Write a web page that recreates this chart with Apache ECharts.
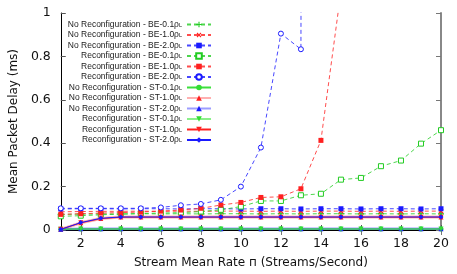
<!DOCTYPE html>
<html><head><meta charset="utf-8">
<script src="https://cdn.jsdelivr.net/npm/echarts@6/dist/echarts.min.js"></script>
<style>html,body{margin:0;padding:0;background:#fff}#c{width:457px;height:274px}</style>
</head><body><div id="c"></div>
<script>
const xs = [1,2,3,4,5,6,7,8,9,10,11,12,13,14,15,16,17,18,19,20];
const xTicks = [2,4,6,8,10,12,14,16,18,20];
const yTicks = [0,0.2,0.4,0.6,0.8,1];
const xTitle = 'Stream Mean Rate п (Streams/Second)';
const yTitle = 'Mean Packet Delay (ms)';
const names = [
 "No Reconfiguration - BE-0.1ρ","No Reconfiguration - BE-1.0ρ","No Reconfiguration - BE-2.0ρ",
 "Reconfiguration - BE-0.1ρ","Reconfiguration - BE-1.0ρ","Reconfiguration - BE-2.0ρ",
 "No Reconfiguration - ST-0.1ρ","No Reconfiguration - ST-1.0ρ","No Reconfiguration - ST-2.0ρ",
 "Reconfiguration - ST-0.1ρ","Reconfiguration - ST-1.0ρ","Reconfiguration - ST-2.0ρ"];
const nrBE01 = [0.072,0.073,0.074,0.074,0.075,0.074,0.075,0.074,0.075,0.075,0.074,0.075,0.074,0.075,0.075,0.074,0.075,0.074,0.075,0.074];
const nrBE10 = [0.084,0.085,0.086,0.086,0.087,0.086,0.087,0.086,0.087,0.087,0.086,0.087,0.086,0.087,0.087,0.086,0.087,0.086,0.087,0.087];
const nrBE20 = [0.097,0.098,0.098,0.097,0.098,0.098,0.097,0.098,0.098,0.097,0.098,0.098,0.097,0.098,0.098,0.097,0.098,0.098,0.097,0.098];
const rBE01 = [0.063,0.066,0.070,0.073,0.076,0.078,0.080,0.085,0.093,0.108,0.134,0.134,0.160,0.167,0.232,0.240,0.294,0.320,0.398,0.460];
const rBE10 = [0.072,0.075,0.078,0.080,0.083,0.087,0.092,0.100,0.115,0.127,0.150,0.153,0.190,0.413,1.10];
const rBE20 = [0.100,0.100,0.100,0.100,0.100,0.104,0.114,0.120,0.139,0.200,0.380,0.905,0.833,40.0];
const nrST01 = [0.004,0.005,0.005,0.005,0.005,0.005,0.005,0.005,0.005,0.005,0.005,0.005,0.005,0.005,0.005,0.005,0.005,0.005,0.005,0.005];
const nrST10 = [0.003,0.033,0.053,0.060,0.060,0.060,0.060,0.060,0.060,0.060,0.060,0.060,0.060,0.060,0.060,0.060,0.060,0.060,0.060,0.060];
const nrST20 = [0.004,0.006,0.006,0.006,0.006,0.006,0.006,0.006,0.006,0.006,0.006,0.006,0.006,0.006,0.006,0.006,0.006,0.006,0.006,0.006];
const rST01 = [0.004,0.005,0.005,0.005,0.005,0.005,0.005,0.005,0.005,0.005,0.005,0.005,0.005,0.005,0.005,0.005,0.005,0.005,0.005,0.005];
const rST10 = [0.003,0.033,0.052,0.059,0.059,0.059,0.059,0.059,0.059,0.059,0.059,0.059,0.059,0.059,0.059,0.059,0.059,0.059,0.059,0.059];
const rST20 = [0.003,0.034,0.054,0.060,0.060,0.060,0.060,0.060,0.060,0.060,0.060,0.060,0.060,0.060,0.060,0.060,0.060,0.060,0.060,0.060];
const dataSets = [nrBE01,nrBE10,nrBE20,rBE01,rBE10,rBE20,nrST01,nrST10,nrST20,rST01,rST10,rST20];

const G='#22cc22', R='#ff2020', B='#1a1aff';
const plus='path://M4,0H6V4H10V6H6V10H4V6H0V4H4Z';
const styles = [
 {c:G, dash:true, sym:plus, size:6},
 {c:R, dash:true, sym:plus, size:6, rot:45},
 {c:B, dash:true, sym:'rect', size:5},
 {c:G, dash:true, sym:'rect', size:5, hollow:true},
 {c:R, dash:true, sym:'rect', size:5},
 {c:B, dash:true, sym:'circle', size:5, hollow:true},
 {c:'#33dd33', lc:'rgba(40,220,40,0.9)', w:1.5, sym:'circle', size:5},
 {c:R, lc:'rgba(255,80,80,0.45)', w:3, sym:'triangle', size:5},
 {c:B, lc:'rgba(60,60,255,0.5)', w:2.5, sym:'triangle', size:5},
 {c:'#33dd33', lc:'rgba(60,230,60,0.6)', w:1.5, sym:'triangle', size:5, rot:180},
 {c:R, lc:R, w:1, sym:'triangle', size:5, rot:180},
 {c:B, lc:B, w:1, sym:'diamond', size:5}
];
const series = dataSets.map((d,i)=>{
  const s=styles[i];
  return {
    name:names[i], type:'line', data:d.map((v,j)=>[xs[j],v]),
    symbol:s.sym, symbolSize:s.size, symbolRotate:s.rot||0, showSymbol:true,
    itemStyle:{color:s.hollow?'#fff':s.c, borderColor:s.c, borderWidth: s.hollow?1:0},
    lineStyle:{color:s.lc||s.c, width:s.w||1, type:s.dash?[4,3]:'solid', opacity:s.dash?0.8:1},
    clip:true, animation:false, z: 2+i
  };
});
const font='DejaVu Sans';
const chart = echarts.init(document.getElementById('c'),null,{renderer:'canvas'});
chart.setOption({
  animation:false,
  grid:{left:50,right:16,top:13,bottom:40},
  legend:{
    orient:'vertical', right:245, top:19, align:'right', padding:0,
    itemWidth:24, itemHeight:7, itemGap:0.5,
    data:names,
    formatter: n => n + '{sub|L}',
    textStyle:{fontFamily:'Liberation Sans', fontSize:8.5, color:'#222', lineHeight:7,
      rich:{sub:{fontSize:5.5, fontFamily:'Liberation Sans', color:'#222', lineHeight:7, verticalAlign:'bottom', padding:[3,0,0,0]}}}
  },
  xAxis:[{
    type:'value', min:1, max:20, position:'bottom',
    name:xTitle, nameLocation:'middle', nameGap:27,
    nameTextStyle:{fontFamily:font, fontSize:12, color:'#111'},
    axisLine:{show:true, lineStyle:{color:'#000',width:1}},
    axisTick:{show:true, inside:true, length:5, customValues:xTicks, lineStyle:{color:'#555'}},
    axisLabel:{customValues:xTicks, fontFamily:font, fontSize:12.5, color:'#111', margin:7},
    splitLine:{show:false}
  },{
    type:'value', min:1, max:20, position:'top',
    axisLine:{show:true, lineStyle:{color:'#000',width:1}},
    axisTick:{show:true, inside:true, length:5, customValues:xTicks, lineStyle:{color:'#777'}},
    axisLabel:{show:false}, splitLine:{show:false}
  }],
  yAxis:[{
    type:'value', min:0, max:1, interval:0.2, position:'left',
    name:yTitle, nameLocation:'middle', nameGap:39,
    nameTextStyle:{fontFamily:font, fontSize:12, color:'#111'},
    axisLine:{show:true, lineStyle:{color:'#000',width:1}},
    axisTick:{show:true, inside:true, length:5, lineStyle:{color:'#555'}},
    axisLabel:{fontFamily:font, fontSize:12.5, color:'#111', margin:10, formatter:v=>String(+v.toFixed(1))},
    splitLine:{show:false}
  },{
    type:'value', min:0, max:1, interval:0.2, position:'right',
    axisLine:{show:true, lineStyle:{color:'#888',width:2}},
    axisTick:{show:true, inside:true, length:5, lineStyle:{color:'#777'}},
    axisLabel:{show:false}, splitLine:{show:false}
  }],
  series: series
});
</script></body></html>
